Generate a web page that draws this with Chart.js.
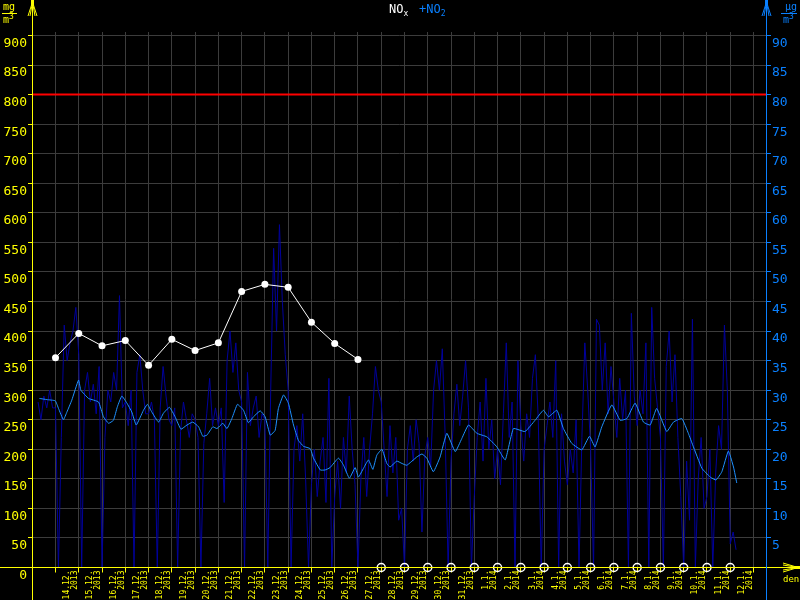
<!DOCTYPE html>
<html>
<head>
<meta charset="utf-8">
<script src="https://cdn.jsdelivr.net/npm/chart.js@4.4.0/dist/chart.umd.min.js"></script>
<style>
html, body { margin: 0; padding: 0; background: #000; }
#wrap { position: relative; width: 800px; height: 600px; overflow: hidden; }
canvas { position: absolute; left: 0; top: 0; }
.t { position: absolute; font-family: 'DejaVu Sans Mono', monospace; white-space: nowrap; line-height: 1; }
.t sub { font-size: 8px; vertical-align: baseline; position: relative; top: 3px; }
.t sup { font-size: 8px; vertical-align: baseline; position: relative; top: -4px; }
.bar { position: absolute; height: 1px; }
</style>
</head>
<body>
<div id="wrap">
  <canvas id="chart" width="800" height="600"></canvas>
  <div class="t" style="left:389px;top:3px;font-size:12px;color:#fff">NO<sub>x</sub></div>
  <div class="t" style="left:419px;top:3px;font-size:12px;color:#0a80ff">+NO<sub>2</sub></div>
  <div class="t" style="left:3px;top:2px;font-size:10px;color:#ff0">mg</div>
  <div class="bar" style="left:2px;top:13px;width:15px;background:#ff0"></div>
  <div class="t" style="left:3px;top:15px;font-size:10px;color:#ff0">m<sup>3</sup></div>
  <div class="t" style="left:785px;top:2px;font-size:10px;color:#0a80ff">µg</div>
  <div class="bar" style="left:781px;top:13px;width:16px;background:#0a80ff"></div>
  <div class="t" style="left:783px;top:15px;font-size:10px;color:#0a80ff">m<sup>3</sup></div>
  <div class="t" style="left:783px;top:575px;font-size:9px;color:#ff0">den</div>
</div>
<script>
// osa x: dny (den 0 = 14.12.2013 00:00)
const dayLabels = ['14.12.', '15.12.', '16.12.', '17.12.', '18.12.', '19.12.', '20.12.', '21.12.', '22.12.',
    '23.12.', '24.12.', '25.12.', '26.12.', '27.12.', '28.12.', '29.12.', '30.12.', '31.12.',
    '1.1.', '2.1.', '3.1.', '4.1.', '5.1.', '6.1.', '7.1.', '8.1.', '9.1.', '10.1.', '11.1.', '12.1.']
const dayYears = ['2013', '2013', '2013', '2013', '2013', '2013', '2013', '2013', '2013',
    '2013', '2013', '2013', '2013', '2013', '2013', '2013', '2013', '2013',
    '2014', '2014', '2014', '2014', '2014', '2014', '2014', '2014', '2014', '2014', '2014', '2014']

// NOx denni prumery (null = chybi)
const noxDaily = [355, 396, 375, 384, 342, 386, 367, 380, 467, 479, 474, 415, 379, 352,
    null, null, null, null, null, null, null, null, null, null, null, null, null, null, null, null]
const noxLimit = 800

// NO2 klouzavy prumer: cas [den], hodnota [ug/m3]
const no2AvgT = [-0.69, -0.37, -0.01, 0.13, 0.34, 0.49, 0.70, 0.99, 1.09, 1.42,
    1.85, 2.06, 2.28, 2.49, 2.66, 2.85, 3.07, 3.28, 3.47, 3.78,
    3.95, 4.14, 4.43, 4.64, 4.90, 5.14, 5.39, 5.65, 5.90, 6.15,
    6.33, 6.51, 6.76, 6.94, 7.19, 7.37, 7.58, 7.82, 8.08, 8.29,
    8.51, 8.80, 9.01, 9.23, 9.44, 9.58, 9.80, 10.01, 10.23, 10.44,
    10.66, 10.95, 11.09, 11.38, 11.59, 11.80, 12.16, 12.38, 12.63, 12.88,
    13.02, 13.24, 13.45, 13.64, 13.81, 14.03, 14.24, 14.38, 14.67, 14.89,
    15.10, 15.53, 15.75, 15.96, 16.24, 16.53, 16.82, 17.18, 17.46, 17.75,
    18.11, 18.54, 18.97, 19.33, 19.68, 20.18, 20.61, 20.97, 21.19, 21.55,
    21.83, 22.19, 22.62, 22.95, 23.19, 23.48, 23.91, 24.27, 24.56, 24.91,
    25.27, 25.56, 25.84, 26.27, 26.56, 26.92, 27.20, 27.39, 27.78, 28.14,
    28.39, 28.64, 28.92, 29.14, 29.28]
const no2Avg = [28.6, 28.4, 28.2, 26.9, 25.0, 26.3, 28.3, 31.7, 30.0, 28.6,
    28.0, 25.5, 24.4, 24.9, 27.2, 29.0, 27.8, 26.3, 24.1, 26.6,
    27.6, 26.3, 24.6, 26.1, 27.1, 25.5, 23.4, 24.1, 24.6, 23.8,
    22.2, 22.4, 23.8, 23.5, 24.4, 23.5, 25.2, 27.6, 26.6, 24.5,
    25.5, 26.5, 25.5, 22.4, 23.2, 26.9, 29.2, 27.8, 24.1, 21.5,
    20.5, 20.1, 18.5, 16.5, 16.5, 16.9, 18.5, 17.3, 15.1, 16.9,
    15.3, 16.8, 18.2, 16.6, 19.0, 20.0, 17.6, 17.0, 18.0, 17.6,
    17.3, 18.7, 19.2, 18.5, 16.2, 18.7, 22.7, 19.6, 21.8, 24.1,
    22.7, 22.1, 20.4, 18.2, 23.5, 23.0, 24.9, 26.6, 25.5, 26.6,
    23.5, 21.0, 19.9, 22.2, 20.4, 23.8, 27.5, 24.9, 25.2, 27.8,
    24.6, 24.1, 26.9, 23.0, 24.6, 25.2, 22.7, 20.7, 16.8, 15.3,
    14.8, 16.2, 19.7, 17.0, 14.3]

// NO2 namerene hodnoty po 3 hodinach, radek = den od 13.12.
const no2Raw = [
    [null, null, 28, 25, 29, 27, 30, 27], // 13.12.
    [27, 0, 22, 41, 35, 38, 40, 44],
    [36, 0, 30, 33, 28, 31, 26, 34],
    [0, 22, 30, 28, 33, 30, 46, 27],
    [28, 24, 30, 0, 33, 36, 30, 26],
    [26, 28, 25, 0, 27, 34, 29, 25],
    [24, 27, 0, 23, 28, 25, 22, 26],
    [25, 22, 0, 21, 26, 32, 24, 27],
    [24, 27, 11, 35, 40, 33, 38, 30],
    [28, 0, 33, 24, 27, 29, 22, 26],
    [25, 0, 30, 54, 40, 58, 45, 36], // 23.12.
    [30, 0, 20, 24, 18, 26, 15, 0],
    [14, 20, 12, 18, 22, 11, 32, 0],
    [12, 18, 10, 22, 16, 29, 20, 14],
    [0, 15, 22, 12, 20, 26, 34, 30],
    [28, 20, 12, 24, 16, 22, 8, 10],
    [0, 20, 24, 18, 25, 21, 6, 19],
    [22, 17, 30, 35, 30, 37, 22, 0],
    [18, 26, 31, 24, 29, 35, 27, 0],
    [12, 22, 28, 18, 32, 20, 25, 15], // 1.1.
    [20, 14, 26, 38, 22, 28, 0, 35],
    [24, 18, 26, 22, 32, 36, 25, 0],
    [20, 24, 28, 22, 35, 0, 26, 18],
    [14, 20, 16, 25, 0, 22, 38, 30],
    [20, 0, 42, 41, 30, 38, 26, 34],
    [28, 22, 32, 25, 30, 0, 43, 29],
    [24, 30, 26, 38, 0, 44, 32, 27],
    [22, 0, 34, 40, 28, 36, 22, 12],
    [0, 18, 8, 42, 0, 15, 22, 10],
    [12, 20, 0, 16, 24, 20, 41, 30],
    [4, 6, 3] // 12.1.
]

const YELLOW = '#ffff00'
const BLUE = '#0a80ff'
const GRID = '#3c3c3c'
const X_MIN = -1.01, X_MAX = 30.537

// body pro Chart.js
const noxPoints = []
const missingPoints = []
noxDaily.forEach((v, i) => {
    if (v === null) missingPoints.push({x: i, y: 0})
    else noxPoints.push({x: i, y: v})
})
const avgPoints = no2AvgT.map((t, i) => ({x: t, y: no2Avg[i]}))
const rawPoints = []
no2Raw.forEach((day, d) => {
    day.forEach((v, h) => {
        if (v !== null) rawPoints.push({x: d - 1 + h * 3 / 24, y: v})
    })
})

// osy presahujici graf + sipky
const axisDeco = {
    id: 'axisDeco',
    afterDraw(chart) {
        const {ctx, chartArea: a} = chart
        const L = Math.round(a.left) + 0.5, R = Math.round(a.right) + 0.5, B = Math.floor(a.bottom) + 0.5
        ctx.save()
        ctx.lineWidth = 1
        const line = (c, x1, y1, x2, y2) => {
            ctx.strokeStyle = c
            ctx.beginPath(); ctx.moveTo(x1, y1); ctx.lineTo(x2, y2); ctx.stroke()
        }
        line(YELLOW, 0, B, 800, B)
        line(YELLOW, L, 0, L, 600)
        line(BLUE, R, 0, R, 600)
        const up = (x, c) => {
            ctx.fillStyle = c
            ctx.fillRect(x - 1.5, 0, 3, 6)
            for (const dx of [-4.5, -2.5, 2.5, 4.5]) line(c, x, 2, x + dx, 16)
        }
        up(L, YELLOW)
        up(R, BLUE)
        ctx.fillStyle = YELLOW
        ctx.fillRect(794, B - 1.5, 6, 3)
        for (const dy of [-4.5, -2.5, 2.5, 4.5]) line(YELLOW, 798, B, 783, B + dy)
        ctx.restore()
    }
}

new Chart(document.getElementById('chart'), {
    type: 'line',
    data: {
        datasets: [
            {
                label: 'NOx', data: noxPoints, yAxisID: 'y',
                borderColor: '#fff', borderWidth: 1, tension: 0,
                pointRadius: 3.5, pointBackgroundColor: '#fff', pointBorderColor: '#fff', pointBorderWidth: 0
            },
            {
                label: 'chybi', data: missingPoints, yAxisID: 'y', showLine: false, clip: false,
                pointRadius: 4, pointBackgroundColor: 'rgba(0,0,0,0)', pointBorderColor: '#fff', pointBorderWidth: 1.5
            },
            {
                label: 'limit', data: [{x: X_MIN, y: noxLimit}, {x: X_MAX, y: noxLimit}], yAxisID: 'y',
                borderColor: '#ff0000', borderWidth: 2, pointRadius: 0
            },
            {
                label: 'NO2 prumer', data: avgPoints, yAxisID: 'y1',
                borderColor: '#1e90ff', borderWidth: 1, tension: 0.12, pointRadius: 0
            },
            {
                label: 'NO2', data: rawPoints, yAxisID: 'y1',
                borderColor: '#00009c', borderWidth: 1, tension: 0, pointRadius: 0
            }
        ]
    },
    options: {
        responsive: false,
        animation: false,
        devicePixelRatio: 1,
        events: [],
        layout: {padding: {top: 32}},
        plugins: {legend: {display: false}, tooltip: {enabled: false}},
        scales: {
            x: {
                type: 'linear', min: X_MIN, max: X_MAX,
                afterFit: s => { s.height = 32.5 },
                afterBuildTicks: s => { s.ticks = dayLabels.map((_, i) => ({value: i + 0.5})) },
                grid: {color: GRID, offset: true, tickLength: 5, tickColor: YELLOW},
                border: {color: YELLOW},
                ticks: {
                    autoSkip: false, minRotation: 90, maxRotation: 90, padding: -2,
                    color: YELLOW, font: {family: 'DejaVu Sans Mono', size: 8, lineHeight: 1},
                    callback: (v, i) => [dayLabels[i], dayYears[i]]
                }
            },
            y: {
                position: 'left', min: 0, max: 905.9,
                afterFit: s => { s.width = 32 },
                grid: {color: GRID, tickLength: 4, tickColor: YELLOW},
                border: {color: YELLOW},
                ticks: {
                    stepSize: 50, includeBounds: false, labelOffset: 8, padding: 1,
                    color: YELLOW, font: {family: 'DejaVu Sans Mono', size: 13}
                }
            },
            y1: {
                position: 'right', min: 0, max: 90.59,
                afterFit: s => { s.width = 34 },
                grid: {drawOnChartArea: false, tickLength: 5, tickColor: BLUE, color: BLUE},
                border: {color: BLUE},
                ticks: {
                    stepSize: 5, includeBounds: false, labelOffset: 8, padding: 1,
                    color: BLUE, font: {family: 'DejaVu Sans Mono', size: 13},
                    callback: v => v === 0 ? '' : v
                }
            }
        }
    },
    plugins: [axisDeco]
})
</script>
</body>
</html>
